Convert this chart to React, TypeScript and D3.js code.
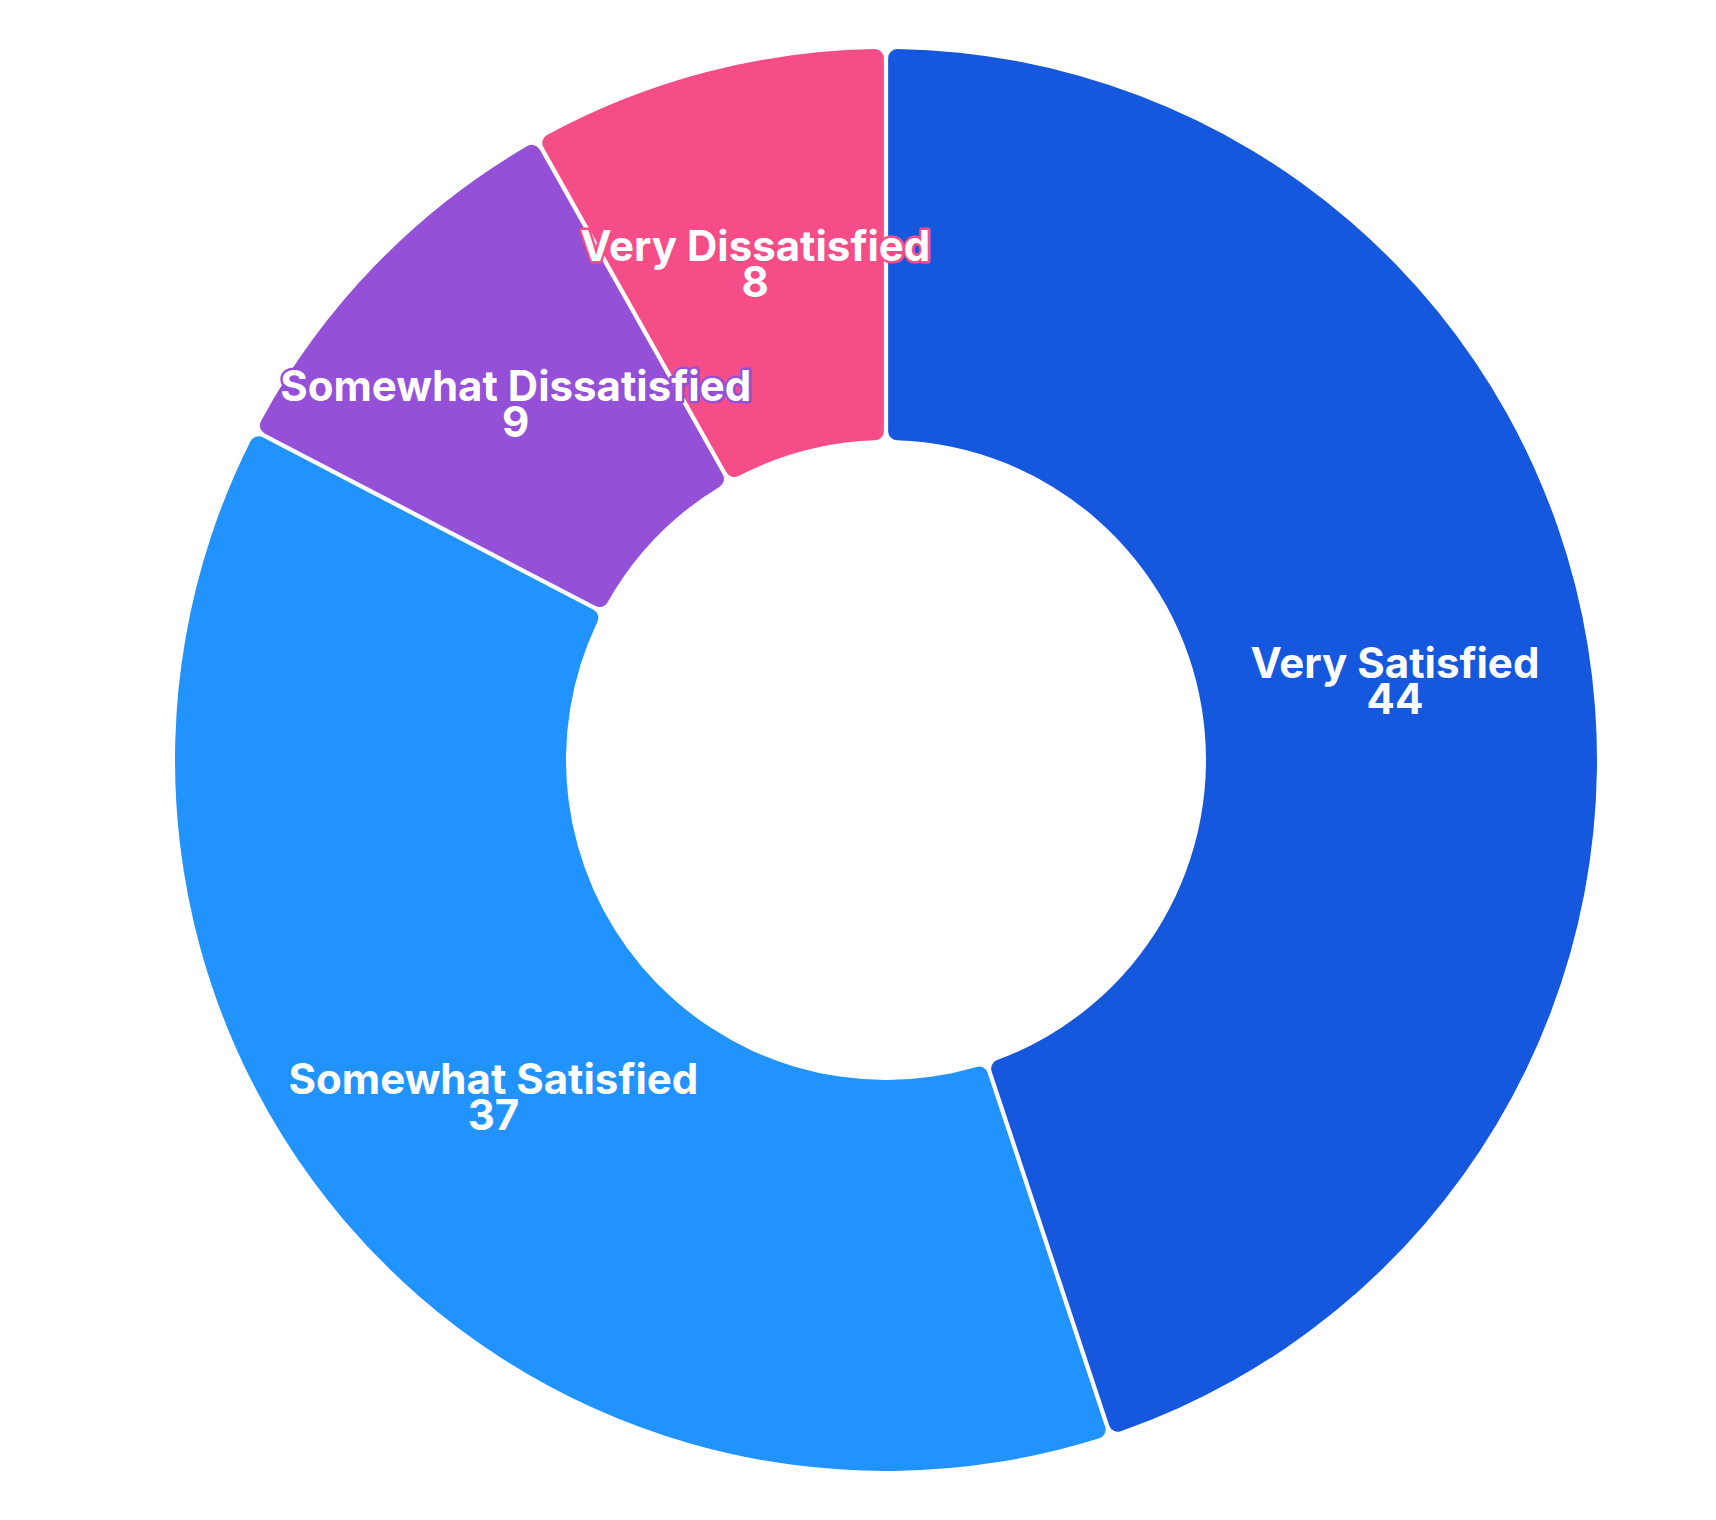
import React, { useEffect, useRef } from 'react';
import * as d3 from 'd3';

const categories = ['Very Satisfied', 'Somewhat Satisfied', 'Somewhat Dissatisfied', 'Very Dissatisfied'];
const values = [44, 37, 9, 8];
const colors = ['#1558DE', '#2193FE', '#9450D6', '#F54D88'];

export default function App() {
  const svgRef = useRef<SVGSVGElement>(null);

  useEffect(() => {
    if (!svgRef.current) return;
    const svg = d3.select(svgRef.current);
    svg.selectAll('*').remove();

    const width = 1716,
      height = 1520;
    const cx = 886,
      cy = 760;
    const outerR = 711,
      innerR = 320;

    const data = categories.map((name, i) => ({ name, value: values[i], color: colors[i] }));

    const pie = d3
      .pie<any>()
      .sort(null)
      .value((d) => d.value);

    const arc = d3
      .arc<any>()
      .innerRadius(innerR)
      .outerRadius(outerR)
      .cornerRadius(9)
      .padAngle(0.0055);

    svg.attr('width', width).attr('height', height);

    const g = svg.append('g').attr('transform', `translate(${cx},${cy})`);

    const arcs = pie(data);

    g.selectAll('path')
      .data(arcs)
      .enter()
      .append('path')
      .attr('d', arc)
      .attr('fill', (d: any) => d.data.color);

    // labels: name on the centroid, value one line below
    const labels = g
      .selectAll('g.label')
      .data(arcs)
      .enter()
      .append('g')
      .attr('class', 'label')
      .attr('transform', (d: any) => {
        const [x, y] = arc.centroid(d);
        return `translate(${x},${y})`;
      });

    labels
      .append('text')
      .attr('text-anchor', 'middle')
      .style('font-family', 'Inter, sans-serif')
      .style('font-weight', 700)
      .style('font-size', '42px')
      .attr('fill', '#ffffff')
      .attr('stroke', (d: any) => d.data.color)
      .attr('stroke-width', 5)
      .attr('stroke-linejoin', 'round')
      .style('paint-order', 'stroke')
      .each(function (d: any) {
        const t = d3.select(this);
        t.append('tspan').attr('x', 0).attr('y', 0).text(d.data.name);
        t.append('tspan').attr('x', 0).attr('y', 36).text(d.data.value);
      });
  }, []);

  return (
    <div style={{ position: 'absolute', left: 0, top: 0, width: 1716, height: 1520, background: '#ffffff' }}>
      <svg ref={svgRef} style={{ display: 'block' }} />
    </div>
  );
}
